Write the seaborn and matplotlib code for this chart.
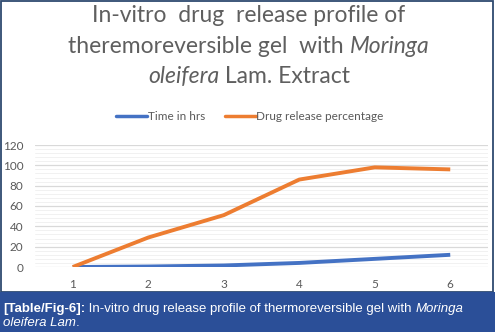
import matplotlib
matplotlib.use("Agg")
import matplotlib.pyplot as plt
import seaborn as sns
import pandas as pd
from matplotlib.patches import Rectangle
from matplotlib.ticker import MultipleLocator
from matplotlib.lines import Line2D

categories = [1, 2, 3, 4, 5, 6]
time_in_hrs = [0, 0.5, 1.5, 4, 8, 12]
drug_release = [0, 29, 51, 86, 98, 96]
series_names = ["Time in hrs", "Drug release percentage"]
y_ticks = [0, 20, 40, 60, 80, 100, 120]

df = pd.DataFrame({
    "x": categories * 2,
    "y": time_in_hrs + drug_release,
    "series": [series_names[0]] * 6 + [series_names[1]] * 6,
})

sns.set_theme(style="white")
plt.rcParams["font.family"] = ["Lato", "DejaVu Sans"]

W, H = 496, 334
fig = plt.figure(figsize=(W / 100, H / 100), dpi=100)
fig.patch.set_facecolor("white")

def fx(px):
    return px / W

def fy(py):
    return 1 - py / H

ax = fig.add_axes([fx(35), fy(267), fx(488) - fx(35), fy(145) - fy(267)])
sns.lineplot(data=df, x="x", y="y", hue="series",
             palette=["#4472C4", "#ED7D31"], linewidth=2.8, ax=ax,
             legend=False, solid_capstyle="butt", zorder=3)
ax.set_xlim(0.5, 6.5)
ax.set_ylim(0, 120)
ax.set_xticks(categories)
ax.set_yticks(y_ticks)
ax.yaxis.set_minor_locator(MultipleLocator(4))
ax.grid(True, which="major", axis="y", color="#d9d9d9", linewidth=0.9)
ax.grid(True, which="minor", axis="y", color="#efefef", linewidth=0.6)
ax.set_axisbelow(True)
ax.set_xlabel("")
ax.set_ylabel("")
for s in ax.spines.values():
    s.set_visible(False)
ax.tick_params(axis="both", which="both", length=0, labelsize=8.5,
               labelcolor="#595959")
ax.tick_params(axis="y", pad=8.5)
ax.tick_params(axis="x", pad=9)
ax.set_facecolor("none")

# legend
handles = [Line2D([], [], color="#4472C4", lw=2.5),
           Line2D([], [], color="#ED7D31", lw=2.5)]
fig.legend(handles, series_names, loc="center", bbox_to_anchor=(fx(250), fy(117)),
           ncol=2, frameon=False, fontsize=8.5, handlelength=2.6,
           handletextpad=0.05, columnspacing=1.7, labelcolor="#595959")

# frame and caption band
fig.patches.append(Rectangle((fx(1), fy(292)), fx(493) - fx(1), fy(1) - fy(292),
                             transform=fig.transFigure, fill=False,
                             edgecolor="#2e4a70", linewidth=1.3))
fig.patches.append(Rectangle((fx(0), fy(332)), fx(495), fy(292) - fy(332),
                             transform=fig.transFigure, facecolor="#2b4f98",
                             edgecolor="none"))

fig.canvas.draw()
renderer = fig.canvas.get_renderer()

def place_line(parts, ypx, xpx, align, size, color, family):
    texts = []
    for s, style, weight in parts:
        t = fig.text(0, fy(ypx), s, fontsize=size, color=color, style=style,
                     weight=weight, family=family, va="baseline", ha="left")
        texts.append(t)
    widths = [t.get_window_extent(renderer).width for t in texts]
    total = sum(widths)
    start = xpx - total / 2 if align == "center" else xpx
    cur = start
    for t, w in zip(texts, widths):
        t.set_x(fx(cur))
        cur += w

title_color = "#5f5f5f"
tfam = ["Lato", "DejaVu Sans"]
place_line([("In-vitro  drug  release profile of", "normal", "normal")],
           22, 249, "center", 16.5, title_color, tfam)
place_line([("theremoreversible gel  with ", "normal", "normal"),
            ("Moringa", "italic", "normal")],
           53, 249, "center", 16.5, title_color, tfam)
place_line([("oleifera", "italic", "normal"), (" Lam. Extract", "normal", "normal")],
           83, 249, "center", 16.5, title_color, tfam)

cfam = ["Liberation Sans", "DejaVu Sans"]
place_line([("[Table/Fig-6]:", "normal", "bold"),
            (" In-vitro drug release profile of thermoreversible gel with ", "normal", "normal"),
            ("Moringa", "italic", "normal")],
           312, 3, "left", 9.5, "white", cfam)
place_line([("oleifera Lam", "italic", "normal"), (".", "normal", "normal")],
           326, 3, "left", 9.5, "white", cfam)

fig.savefig("out.png", dpi=100, facecolor="white")
